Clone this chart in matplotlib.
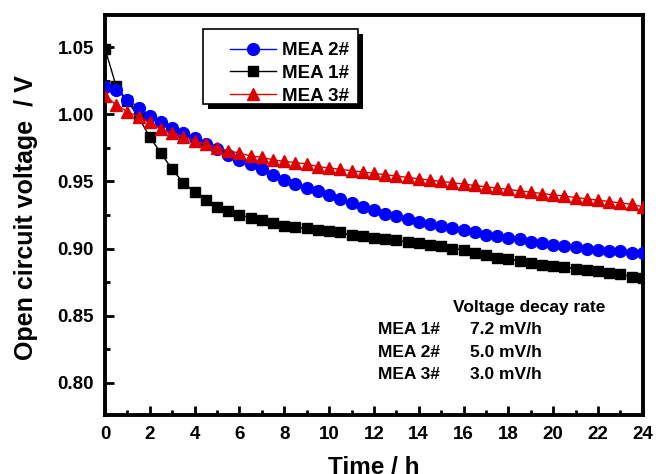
import matplotlib
matplotlib.use('Agg')
import matplotlib.pyplot as plt
from matplotlib.patches import Rectangle
from matplotlib.ticker import MultipleLocator

plt.rcParams['font.family'] = ['Liberation Sans', 'DejaVu Sans']
plt.rcParams['font.weight'] = 'bold'

# Sampling every half hour over 24 h
time_h = [i * 0.5 for i in range(49)]

mea1 = [1.049, 1.021, 1.010, 0.998, 0.983, 0.971, 0.959, 0.949, 0.942, 0.936,
        0.931, 0.928, 0.925, 0.923, 0.921, 0.919, 0.917, 0.916, 0.915, 0.914,
        0.913, 0.912, 0.910, 0.909, 0.908, 0.907, 0.906, 0.905, 0.904, 0.903,
        0.902, 0.900, 0.899, 0.897, 0.895, 0.893, 0.892, 0.891, 0.889, 0.888,
        0.887, 0.886, 0.885, 0.884, 0.883, 0.882, 0.881, 0.879, 0.878]
mea2 = [1.020, 1.018, 1.011, 1.005, 0.999, 0.994, 0.990, 0.986, 0.982, 0.978,
        0.974, 0.970, 0.966, 0.963, 0.959, 0.955, 0.951, 0.948, 0.945, 0.943,
        0.940, 0.937, 0.934, 0.931, 0.929, 0.926, 0.924, 0.922, 0.920, 0.918,
        0.917, 0.915, 0.914, 0.912, 0.910, 0.909, 0.908, 0.907, 0.905, 0.904,
        0.903, 0.902, 0.901, 0.900, 0.899, 0.898, 0.898, 0.897, 0.897]
mea3 = [1.014, 1.007, 1.002, 0.998, 0.994, 0.989, 0.986, 0.983, 0.980, 0.978,
        0.975, 0.973, 0.971, 0.969, 0.968, 0.966, 0.965, 0.964, 0.963, 0.961,
        0.960, 0.959, 0.958, 0.957, 0.956, 0.955, 0.954, 0.953, 0.952, 0.951,
        0.950, 0.949, 0.948, 0.947, 0.946, 0.945, 0.944, 0.943, 0.942, 0.941,
        0.940, 0.939, 0.938, 0.937, 0.936, 0.935, 0.934, 0.933, 0.931]

decay_names = ['MEA 1#', 'MEA 2#', 'MEA 3#']
decay_rates = ['7.2 mV/h', '5.0 mV/h', '3.0 mV/h']

fig = plt.figure(figsize=(6.56, 4.74), dpi=100)
ax = fig.add_axes([0.160, 0.1245, 0.820, 0.8439])

ax.plot(time_h, mea2, color='#0000ff', marker='o', markersize=8.5, lw=1,
        label='MEA 2#', zorder=3)
ax.plot(time_h, mea1, color='black', marker='s', markersize=7.5, lw=1,
        label='MEA 1#', zorder=2)
ax.plot(time_h, mea3, color='#dd0000', marker='^', markersize=9, lw=1,
        label='MEA 3#', zorder=4)

ax.set_xlim(0, 24)
ax.set_ylim(0.776, 1.074)
ax.xaxis.set_major_locator(MultipleLocator(2))
ax.xaxis.set_minor_locator(MultipleLocator(1))
ax.yaxis.set_major_locator(MultipleLocator(0.05))
ax.yaxis.set_minor_locator(MultipleLocator(0.025))
ax.tick_params(which='both', direction='in', width=2, labelsize=13.5, pad=8)
ax.tick_params(which='major', length=6.5)
ax.tick_params(which='minor', length=3.5)
for s in ax.spines.values():
    s.set_linewidth(2.8)

ax.set_xlabel('Time / h', fontsize=17.5, fontweight='bold')
ax.set_ylabel('Open circuit voltage  / V', fontsize=18, fontweight='bold')
ax.xaxis.set_label_coords(0.5, -0.1025)
ax.yaxis.set_label_coords(-0.1245, 0.4925)

# legend box with a solid black drop shadow, drawn by hand
box_x, box_y, box_w, box_h = 0.182, 0.7775, 0.288, 0.1875
ax.add_patch(Rectangle((box_x + 0.009, box_y - 0.012), box_w, box_h,
                       transform=ax.transAxes, facecolor='black',
                       edgecolor='none', zorder=9))
ax.add_patch(Rectangle((box_x, box_y), box_w, box_h, transform=ax.transAxes,
                       facecolor='white', edgecolor='black', lw=1.2,
                       zorder=10))
leg = ax.legend(loc='upper left', bbox_to_anchor=(0.232, 0.932), fontsize=13.5,
                frameon=False, handlelength=2.45, handletextpad=0.35,
                borderpad=0, labelspacing=0.3, borderaxespad=0)
leg.set_zorder(11)

ax.text(0.647, 0.2675, 'Voltage decay rate', transform=ax.transAxes,
        fontsize=12.5, fontweight='bold', ha='left', va='center')
for i, (name, rate) in enumerate(zip(decay_names, decay_rates)):
    y = 0.2125 - i * 0.056
    ax.text(0.507, y, name, transform=ax.transAxes, fontsize=12.5,
            fontweight='bold', ha='left', va='center')
    ax.text(0.678, y, rate, transform=ax.transAxes, fontsize=12.5,
            fontweight='bold', ha='left', va='center')

fig.savefig('out.png', dpi=100)
